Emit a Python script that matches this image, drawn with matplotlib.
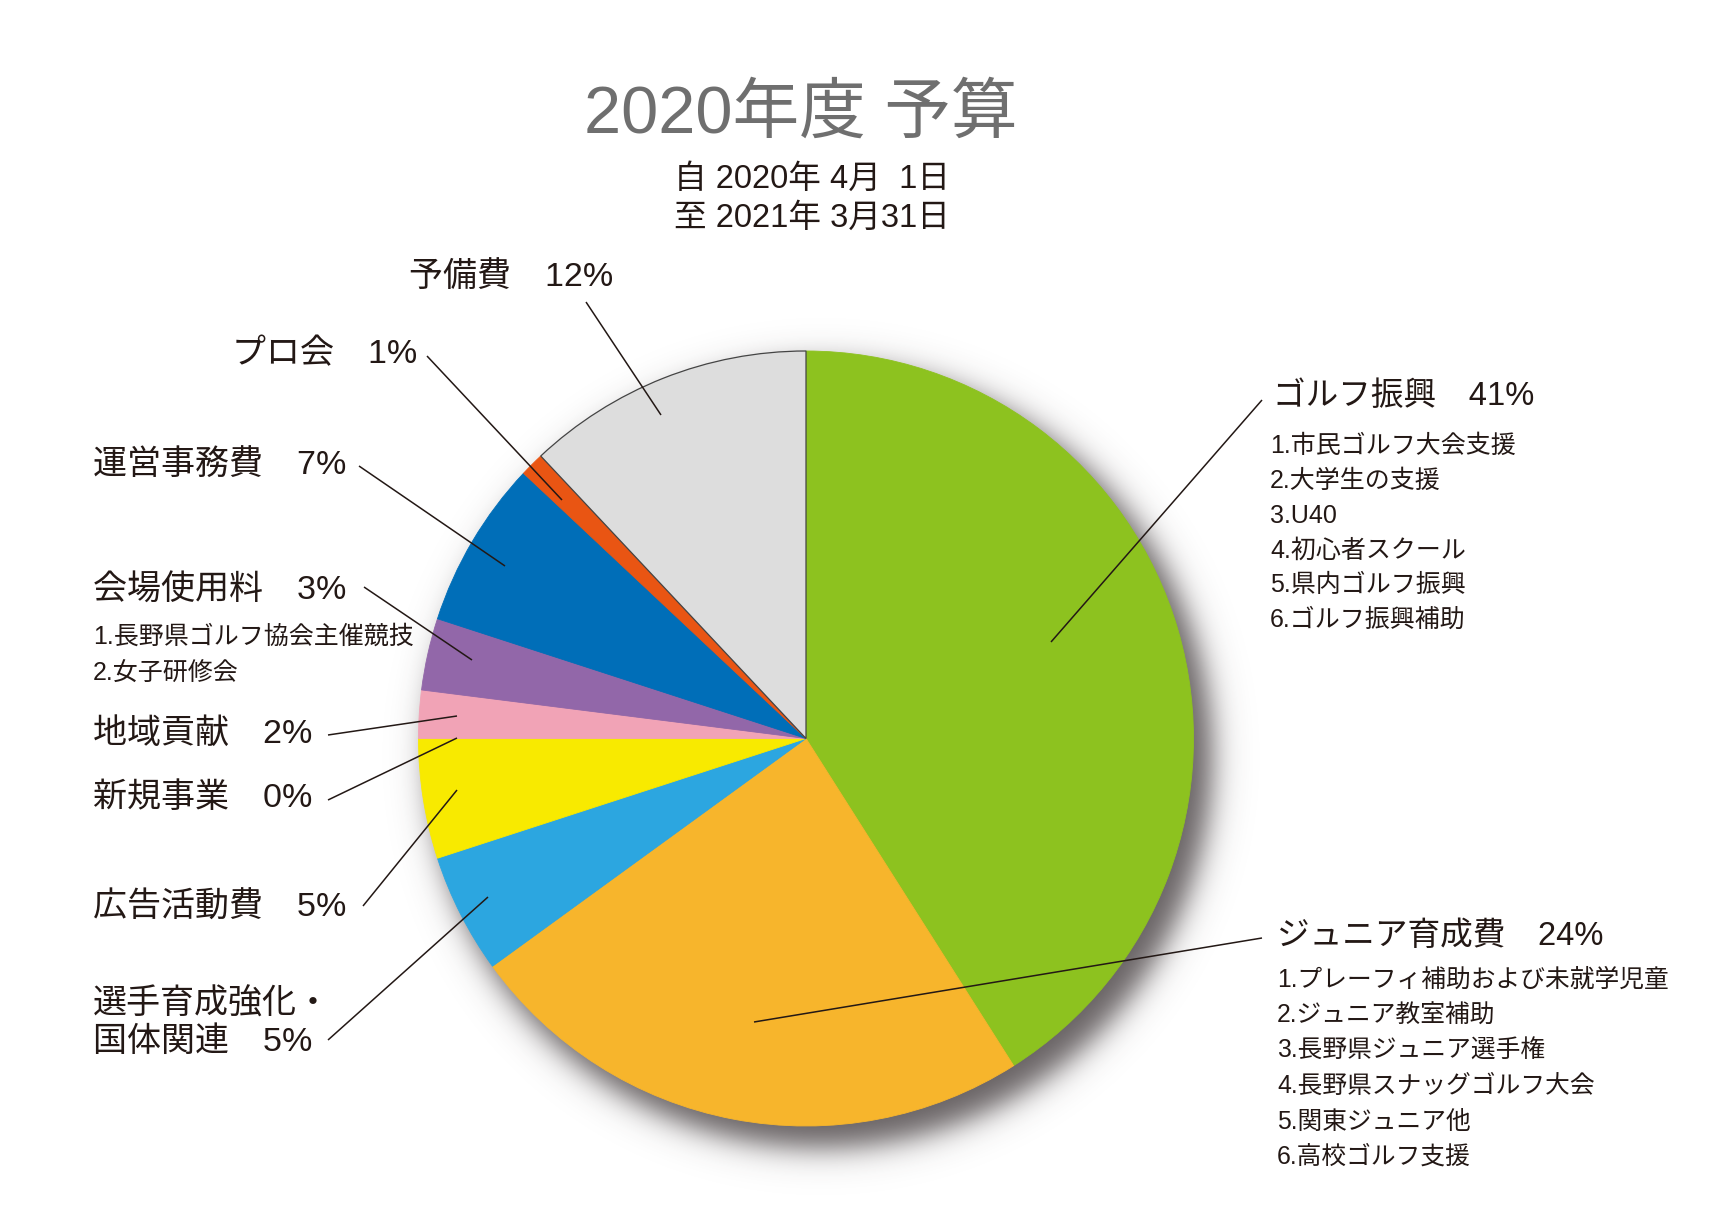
import numpy as np
import matplotlib
matplotlib.use("Agg")
import matplotlib.pyplot as plt

plt.rcParams['font.family'] = ['Liberation Sans', 'Noto Sans CJK JP', 'DejaVu Sans']

# ---------------- data ----------------
categories = ['ゴルフ振興', 'ジュニア育成費', '選手育成強化・\n国体関連', '広告活動費', '新規事業',
              '地域貢献', '会場使用料', '運営事務費', 'プロ会', '予備費']
shares = [41, 24, 5, 5, 0, 2, 3, 7, 1, 12]
colors = ['#8DC21F', '#F7B52C', '#2CA6E0', '#F8EA00', '#F8EA00',
          '#F1A3B6', '#9267A9', '#006EB8', '#E95513', '#DDDDDD']

golf_items = ['1.市民ゴルフ大会支援', '2.大学生の支援', '3.U40', '4.初心者スクール',
              '5.県内ゴルフ振興', '6.ゴルフ振興補助']
junior_items = ['1.プレーフィ補助および未就学児童', '2.ジュニア教室補助', '3.長野県ジュニア選手権',
                '4.長野県スナッグゴルフ大会', '5.関東ジュニア他', '6.高校ゴルフ支援']
venue_items = ['1.長野県ゴルフ協会主催競技', '2.女子研修会']

title = '2020年度 予算'
period = ['自 2020年 4月  1日', '至 2021年 3月31日']

# ---------------- layout (pixel coords, y downward) ----------------
W, H = 1719, 1226
CX, CY, R = 806, 738.5, 387.5
TXT = '#231815'

label_pos = [(1273, 397), (1277, 936), (93, 1023), (93, 908), (93, 798),
             (93, 734), (93, 591), (93, 466), (232, 354), (409, 277)]
label_size = [23.5, 23.5, 24.5, 24.5, 24.5, 24.5, 24.5, 24.5, 24.5, 24.5]
leaders = [((1262, 400), (1051, 642)),
           ((1262, 938), (754, 1022)),
           ((328, 1040), (488, 897)),
           ((363, 906), (457, 790)),
           ((328, 800), (457, 738)),
           ((328, 735), (457, 716)),
           ((364, 587), (472, 660)),
           ((359, 466), (505, 566)),
           ((427, 356), (562, 500)),
           ((586, 302), (661, 415))]

fig = plt.figure(figsize=(W / 100, H / 100), dpi=100)
ax = fig.add_axes([0, 0, 1, 1])

def Y(y):
    return H - y

# soft drop shadow
gx = np.arange(0, W) + 0.5
gy = np.arange(0, H) + 0.5
XX, YY = np.meshgrid(gx, gy)
sdx, sdy = 15, 18
d = np.hypot(XX - (CX + sdx), YY - (CY + sdy))
alpha = 0.75 / (1 + np.exp((d - (R + 4)) / 9.0))
img = np.zeros((H, W, 4))
img[..., 0] = 0.20
img[..., 1] = 0.17
img[..., 2] = 0.18
img[..., 3] = alpha
ax.imshow(img, extent=(0, W, 0, H), origin='upper', zorder=0, interpolation='bilinear')

wedges, _ = ax.pie(shares, colors=colors, startangle=90, counterclock=False,
                   center=(CX, Y(CY)), radius=R,
                   wedgeprops=dict(linewidth=0.6, antialiased=True))
for w, c in zip(wedges, colors):
    w.set_edgecolor(c)
    w.set_zorder(1)
wedges[-1].set_edgecolor('#444444')
wedges[-1].set_linewidth(0.9)

# leader lines
for (p0, p1) in leaders:
    ax.plot([p0[0], p1[0]], [Y(p0[1]), Y(p1[1])], color=TXT, lw=1.1, zorder=3,
            solid_capstyle='butt')

# main labels
for name, v, (x, y), fs in zip(categories, shares, label_pos, label_size):
    ax.text(x, Y(y), f'{name}　{v}%', fontsize=fs, color=TXT, ha='left',
            va='center', linespacing=1.22, zorder=4)

# sub items
for i, s in enumerate(golf_items):
    ax.text(1270, Y(446 + i * 34.8), s, fontsize=18, color=TXT, ha='left', va='center', zorder=4)
for i, s in enumerate(junior_items):
    ax.text(1277, Y(980 + i * 35.4), s, fontsize=17.8, color=TXT, ha='left', va='center', zorder=4)
for i, s in enumerate(venue_items):
    ax.text(93, Y(637 + i * 36), s, fontsize=18, color=TXT, ha='left', va='center', zorder=4)

# titles
ax.text(801, Y(116), title, fontsize=48, color='#6F6F6F', ha='center', va='center')
for i, s in enumerate(period):
    ax.text(812, Y(179 + i * 39.5), s, fontsize=23.5, color=TXT, ha='center', va='center')

ax.set_xlim(0, W)
ax.set_ylim(0, H)
ax.set_aspect('equal')
ax.set_autoscale_on(False)
ax.axis('off')
fig.savefig('out.png', dpi=100, facecolor='white')
